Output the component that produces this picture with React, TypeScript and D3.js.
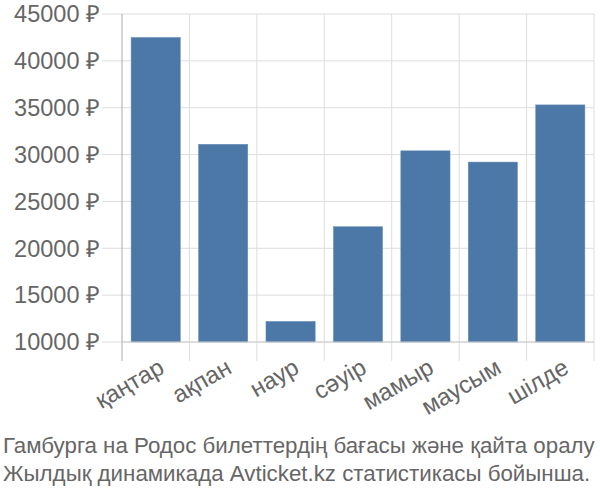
import React from "react";
import * as d3 from "d3";

const categories = ["қаңтар", "ақпан", "наур", "сәуір", "мамыр", "маусым", "шілде"];
const values = [42500, 31100, 12200, 22300, 30400, 29200, 35300];
const yTicks = [10000, 15000, 20000, 25000, 30000, 35000, 40000, 45000];
const captionLines = [
  "Гамбурга на Родос билеттердің бағасы және қайта оралу",
  "Жылдық динамикада Avticket.kz статистикасы бойынша.",
];

export default function App() {
  const width = 600;
  const height = 500;
  const left = 122;
  const right = 594;
  const top = 14;
  const bottom = 342;

  const x = d3.scaleBand<string>().domain(categories).range([left, right]).paddingInner(0.27).paddingOuter(0.135);
  const xEdges = d3.scaleBand<string>().domain(categories).range([left, right]).padding(0);
  const y = d3.scaleLinear().domain([10000, 45000]).range([bottom, top]);
  const font = "'Liberation Sans', Arial, sans-serif";

  return (
    <svg width={width} height={height} style={{ position: "absolute", left: 0, top: 0 }}>
      <rect width={width} height={height} fill="#fff" />
      {yTicks.map((t) => (
        <line key={t} x1={left - 20} x2={right} y1={y(t)} y2={y(t)} stroke="#ddd" strokeWidth={1} />
      ))}
      {categories.map((c) => (
        <line key={c} x1={(xEdges(c) as number) + xEdges.bandwidth()} x2={(xEdges(c) as number) + xEdges.bandwidth()} y1={top} y2={bottom + 19} stroke="#ddd" strokeWidth={1} />
      ))}
      <line x1={left} x2={left} y1={top} y2={bottom + 19} stroke="#aaa" strokeWidth={1} />
      {categories.map((c, i) => (
        <rect key={c} x={x(c)} y={y(values[i])} width={x.bandwidth()} height={bottom - y(values[i])} fill="#4c78a8" stroke="#6a8fb8" strokeWidth={0.5} />
      ))}
      <line x1={left} x2={right} y1={bottom} y2={bottom} stroke="#ccc" strokeWidth={1} />
      {yTicks.map((t) => (
        <text key={t} x={left - 22} y={y(t)} dy="0.35em" textAnchor="end" fontFamily={font} fontSize={23.5} fill="#666">
          {`${t} ₽`}
        </text>
      ))}
      {categories.map((c) => {
        const cx = (x(c) as number) + x.bandwidth() / 2 + 10;
        const cy = bottom + 30;
        return (
          <text key={c} x={cx} y={cy} textAnchor="end" fontFamily={font} fontSize={24} fill="#666" transform={`rotate(-30, ${cx}, ${cy})`}>
            {c}
          </text>
        );
      })}
      {captionLines.map((l, i) => (
        <text key={i} x={3} y={453 + i * 28} fontFamily={font} fontSize={22.3} fill="#666">
          {l}
        </text>
      ))}
    </svg>
  );
}
